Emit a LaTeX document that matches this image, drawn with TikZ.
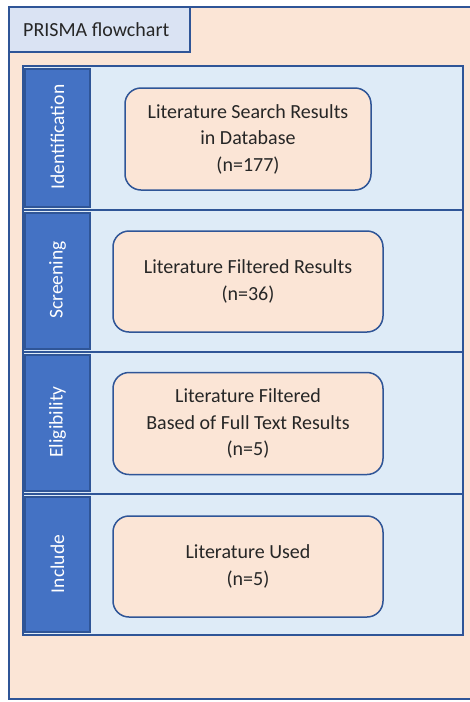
\documentclass[tikz,border=0pt]{standalone}
\usepackage{fontspec}
\setmainfont{Carlito}
\definecolor{peach}{HTML}{FBE5D6}
\definecolor{lanebg}{HTML}{DEEBF7}
\definecolor{hdrblue}{HTML}{4472C4}
\definecolor{edgeblue}{HTML}{2F5597}
\definecolor{titlebg}{HTML}{DAE3F3}
\definecolor{txt}{HTML}{262626}
\begin{document}
\begin{tikzpicture}[x=1pt,y=-1pt,
  lane/.style={draw=edgeblue,line width=1.5pt,fill=lanebg},
  hdr/.style={draw=edgeblue,line width=1.2pt,fill=hdrblue},
  hdrtext/.style={text=white,rotate=90,font=\fontsize{19.5}{24}\selectfont,inner sep=0pt},
  stagebox/.style={draw=edgeblue,line width=1.5pt,fill=peach,rounded corners=16pt,align=center,text=txt,font=\fontsize{20}{26.5}\selectfont,inner sep=0pt},
]
\useasboundingbox (0,0) rectangle (470,702);
\clip (0,0) rectangle (470,702);
\fill[white] (0,0) rectangle (470,702);
% outer frame
\draw[edgeblue,line width=2pt,fill=peach] (9,7) rectangle (480,699);
% title tab
\draw[edgeblue,line width=1.5pt,fill=titlebg] (9,7) rectangle (190,52);
\node[anchor=west,text=txt,font=\fontsize{20}{24}\selectfont,inner sep=0pt] (title) at (23,30) {PRISMA flowchart};
% lanes
\draw[lane] (23,66) rectangle (463,210);
\draw[lane] (23,210) rectangle (463,352);
\draw[lane] (23,352) rectangle (463,494);
\draw[lane] (23,494) rectangle (463,635);
% headers
\draw[hdr] (25,69) rectangle (90,207);
\draw[hdr] (25,213) rectangle (90,349);
\draw[hdr] (25,355) rectangle (90,491);
\draw[hdr] (25,497) rectangle (90,632);
\node[hdrtext] (h1) at (57.5,137) {Identification};
\node[hdrtext] (h2) at (57.5,280) {Screening};
\node[hdrtext] (h3) at (57.5,422) {Eligibility};
\node[hdrtext] (h4) at (57.5,564) {Include};
% boxes
\node[stagebox,minimum width=246pt,minimum height=102pt] (b1) at (248,139) {Literature Search Results\\in Database\\(n=177)};
\node[stagebox,minimum width=270pt,minimum height=101pt] (b2) at (248,281.5) {Literature Filtered Results\\(n=36)};
\node[stagebox,minimum width=270pt,minimum height=102pt] (b3) at (248,423.5) {Literature Filtered\\Based of Full Text Results\\(n=5)};
\node[stagebox,minimum width=270pt,minimum height=101pt] (b4) at (248,566.5) {Literature Used\\(n=5)};
\end{tikzpicture}
\end{document}
